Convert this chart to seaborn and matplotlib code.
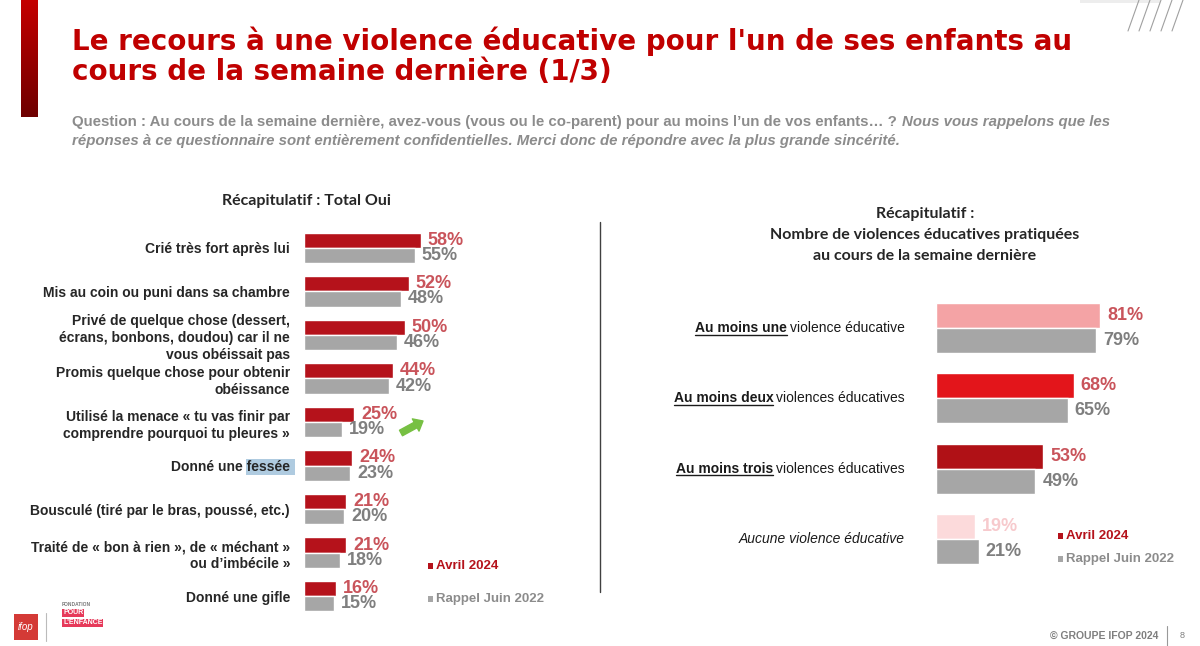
"""
    Recap IFOP : recours a une violence educative (1/3)
    Deux graphiques en barres horizontales (2024 vs 2022).
"""

import numpy as np
import pandas as pd
import matplotlib
matplotlib.use("Agg")
from matplotlib import pyplot as plt
from matplotlib import font_manager
from matplotlib.patches import Rectangle, FancyBboxPatch
from matplotlib.lines import Line2D
from matplotlib.colors import LinearSegmentedColormap
import seaborn as sns

# Donnees - graphique de gauche
ITEMS = [
    "Crié très fort après lui",
    "Mis au coin ou puni dans sa chambre",
    "Privé de quelque chose (dessert,\nécrans, bonbons, doudou) car il ne\nvous obéissait pas",
    "Promis quelque chose pour obtenir\nobéissance",
    "Utilisé la menace « tu vas finir par\ncomprendre pourquoi tu pleures »",
    "Donné une fessée",
    "Bousculé (tiré par le bras, poussé, etc.)",
    "Traité de « bon à rien », de « méchant »\nou d’imbécile »",
    "Donné une gifle",
]
AVRIL_2024 = [58, 52, 50, 44, 25, 24, 21, 21, 16]
JUIN_2022 = [55, 48, 46, 42, 19, 23, 20, 18, 15]

# Donnees - graphique de droite
NB_BOLD = ["Au moins une", "Au moins deux", "Au moins trois", ""]
NB_REST = ["violence éducative", "violences éducatives", "violences éducatives",
           "Aucune violence éducative"]
NB_AVRIL_2024 = [81, 68, 53, 19]
NB_JUIN_2022 = [79, 65, 49, 21]

SERIES = ["Avril 2024", "Rappel Juin 2022"]

RED = "#B5121B"
GREY = "#A6A6A6"
NB_COLORS = ["#F4A3A5", "#E3151B", "#B01116", "#FCDADB"]
RED_TXT = "#C9545B"
GREY_TXT = "#7F7F7F"

W, H = 1200, 646

sns.set_style("white")
names = {f.name for f in font_manager.fontManager.ttflist}
HAS_NARROW = "Liberation Sans Narrow" in names
NARROW = ["Liberation Sans Narrow", "Liberation Sans", "DejaVu Sans"]
ARIAL = ["Liberation Sans", "DejaVu Sans"]
plt.rcParams["font.family"] = ARIAL


def fx(x):
    return x / W


def fy(y):
    return 1 - y / H


fig = plt.figure(figsize=(W / 100, H / 100), dpi=100)
fig.canvas.draw()
renderer = fig.canvas.get_renderer()


def width_of(t):
    return t.get_window_extent(renderer).width


def fit_width(t, width):
    t.set_fontsize(t.get_fontsize() * width / width_of(t))


def put_runs(x, y, runs, gap=4, align="left"):
    """ Place plusieurs morceaux de texte sur une meme ligne de base """
    arts = [fig.text(fx(x), fy(y), s, va="baseline", ha="left", **kw) for s, kw in runs]
    widths = [width_of(a) for a in arts]
    total = sum(widths) + gap * (len(arts) - 1)
    start = x - total if align == "right" else x
    pos = []
    for a, w in zip(arts, widths):
        a.set_x(fx(start))
        pos.append((start, w))
        start += w + gap
    return arts, pos


# ---- Titre ----
title_kw = dict(color="#C00000", fontweight="bold", family=["DejaVu Sans"], va="baseline")
t1 = fig.text(fx(72), fy(50), "Le recours à une violence éducative pour l'un de ses enfants au",
              fontsize=18, **title_kw)
fit_width(t1, 1003)
fig.text(fx(72), fy(80), "cours de la semaine dernière (1/3)",
         fontsize=t1.get_fontsize(), **title_kw)

# barre rouge decorative a gauche
deco = fig.add_axes([fx(21), fy(117), fx(17), 117 / H])
grad = np.linspace(0, 1, 100).reshape(-1, 1)
cmap = LinearSegmentedColormap.from_list("deco", ["#C40000", "#6E0000"])
img = deco.imshow(grad, aspect="auto", cmap=cmap, extent=(0, 1, 0, 1))
clip = FancyBboxPatch((0, -0.2), 1, 1.3, boxstyle="round,pad=0,rounding_size=0.5",
                      transform=deco.transAxes, mutation_aspect=0.15)
img.set_clip_path(clip)
deco.axis("off")

# hachures en haut a droite
for i in range(5):
    x0 = 1128 + i * 11
    fig.add_artist(Line2D([fx(x0), fx(x0 + 11)], [fy(31), fy(0)], color="#A0A0A0", lw=0.8))
fig.add_artist(Rectangle((fx(1080), fy(3)), fx(80), 3 / H, color="#EDEDED", lw=0))

# ---- Sous-titre ----
SUB_1 = ("Question : Au cours de la semaine dernière, avez-vous (vous ou le co-parent) "
         "pour au moins l’un de vos enfants… ?")
SUB_1_IT = "Nous vous rappelons que les"
SUB_2 = ("réponses à ce questionnaire sont entièrement confidentielles. "
         "Merci donc de répondre avec la plus grande sincérité.")
sub_kw = dict(color="#8C8C8C", fontweight="bold", family=NARROW)
probe = [fig.text(0, 0, SUB_1, fontsize=11, **sub_kw),
         fig.text(0, 0, SUB_1_IT, fontsize=11, style="italic", **sub_kw)]
sub_size = 11 * 1040 / (sum(width_of(a) for a in probe) + 5)
for a in probe:
    a.remove()
put_runs(72, 126, [(SUB_1, dict(sub_kw, fontsize=sub_size)),
                   (SUB_1_IT, dict(sub_kw, fontsize=sub_size, style="italic"))], gap=5)
fig.text(fx(72), fy(145), SUB_2, va="baseline", fontsize=sub_size, style="italic", **sub_kw)

# ---- Titres des sections ----
st = fig.text(fx(307), fy(201), "Récapitulatif : Total Oui", ha="center", va="center",
              fontweight="bold", fontsize=11, family=["Lato", "DejaVu Sans"])
fit_width(st, 169)
for yy, s in zip([214, 235, 256], ["Récapitulatif :", "Nombre de violences éducatives pratiquées",
                                   "au cours de la semaine dernière"]):
    fig.text(fx(925), fy(yy), s, ha="center", va="center", fontweight="bold",
             fontsize=st.get_fontsize(), family=["Lato", "DejaVu Sans"])

# separateur vertical
fig.add_artist(Line2D([fx(600), fx(600)], [fy(222), fy(592)], color="#404040", lw=1))

# ---- Graphique de gauche ----
df_left = pd.DataFrame({
    "item": ITEMS * 2,
    "serie": [SERIES[0]] * len(ITEMS) + [SERIES[1]] * len(ITEMS),
    "val": AVRIL_2024 + JUIN_2022,
})
ax1 = fig.add_axes([fx(304), fy(618), 242 / W, 392 / H])
sns.barplot(data=df_left, y="item", x="val", hue="serie", order=ITEMS, hue_order=SERIES,
            palette=[RED, GREY], width=0.7, saturation=1, legend=False, ax=ax1)
ax1.set_xlim(0, 120)
ax1.set_ylim(len(ITEMS) - 0.5, -0.5)
ax1.set_xlabel("")
ax1.set_ylabel("")
ax1.set_xticks([])
sns.despine(ax=ax1, left=True, bottom=True)
lab_size = 12.2 if HAS_NARROW else 10
ax1.tick_params(axis="y", length=0, pad=10)
for lab in ax1.get_yticklabels():
    lab.set_fontfamily(NARROW)
    lab.set_fontweight("bold")
    lab.set_fontsize(lab_size)
    lab.set_linespacing(1.12 if HAS_NARROW else 1.3)
ax1.bar_label(ax1.containers[0], fmt="%d%%", padding=5, color=RED_TXT,
              fontsize=13, fontweight="bold")
ax1.bar_label(ax1.containers[1], fmt="%d%%", padding=5, color=GREY_TXT,
              fontsize=13, fontweight="bold")

# fleche verte (hausse significative)
ax1.annotate("", xy=(423, H - 421), xycoords="figure pixels",
             xytext=(401, H - 433), textcoords="figure pixels", annotation_clip=False,
             arrowprops=dict(arrowstyle="simple,head_width=1.0,head_length=0.6,tail_width=0.45",
                             color="#77C043", mutation_scale=10, shrinkA=0, shrinkB=0))

# surlignage de "fessée"
fig.canvas.draw()
lab = ax1.get_yticklabels()[5]
bb = lab.get_window_extent(renderer)
tmp = fig.text(0, 0, "fessée", fontfamily=NARROW, fontweight="bold", fontsize=lab_size)
wf = width_of(tmp)
tmp.remove()
fig.add_artist(Rectangle(((bb.x1 - wf - 1) / W, (bb.y0 - 1) / H), (wf + 6) / W,
                         (bb.height + 2) / H, color="#AFCBE0", lw=0, zorder=-1))

# ---- Graphique de droite ----
nb_cats = [(b + " " + r).strip() for b, r in zip(NB_BOLD, NB_REST)]
df_right = pd.DataFrame({
    "cat": nb_cats * 2,
    "serie": [SERIES[0]] * len(nb_cats) + [SERIES[1]] * len(nb_cats),
    "val": NB_AVRIL_2024 + NB_JUIN_2022,
})
ax2 = fig.add_axes([fx(936), fy(574), 223 / W, 281 / H])
sns.barplot(data=df_right, y="cat", x="val", hue="serie", order=nb_cats, hue_order=SERIES,
            palette=[RED, GREY], width=0.71, saturation=1, legend=False, ax=ax2)
ax2.set_xlim(0, 110)
ax2.set_ylim(len(nb_cats) - 0.5, -0.5)
ax2.set_xlabel("")
ax2.set_ylabel("")
ax2.set_xticks([])
ax2.set_yticks([])
sns.despine(ax=ax2, left=True, bottom=True)
for patch, col in zip(ax2.containers[0], NB_COLORS):
    patch.set_facecolor(col)
lab_cols = [RED_TXT, RED_TXT, RED_TXT, "#F7CACD"]
txts = ax2.bar_label(ax2.containers[0], fmt="%d%%", padding=5, fontsize=13, fontweight="bold")
for t, c in zip(txts, lab_cols):
    t.set_color(c)
ax2.bar_label(ax2.containers[1], fmt="%d%%", padding=5, color=GREY_TXT,
              fontsize=13, fontweight="bold")

# etiquettes de droite (gras souligne + normal)
fig.canvas.draw()
for i, (b, r) in enumerate(zip(NB_BOLD, NB_REST)):
    yc = H - ax2.transData.transform((0, i))[1]
    base = yc + 4
    if b:
        arts, pos = put_runs(905, base, [
            (b, dict(fontweight="bold", fontsize=10, color="#1A1A1A")),
            (r, dict(fontsize=10, color="#1A1A1A")),
        ], gap=3, align="right")
        x0, w = pos[0]
        fig.add_artist(Line2D([fx(x0), fx(x0 + w)], [fy(base + 2.5)] * 2, color="#1A1A1A", lw=1))
    else:
        fig.text(fx(905), fy(base), r, ha="right", va="baseline", fontsize=10,
                 style="italic", color="#1A1A1A")

# ---- Legendes ----
leg_kw = dict(fontweight="bold", fontsize=11.5 if HAS_NARROW else 9.5, family=NARROW,
              va="center")
for x0, ys in [(428, (566, 599)), (1058, (536, 559))]:
    for yy, col, s in zip(ys, [RED, GREY], SERIES):
        fig.add_artist(Rectangle((fx(x0), fy(yy + 3)), 5 / W, 6 / H, color=col, lw=0))
        fig.text(fx(x0 + 8), fy(yy), s, color=col if col == RED else "#8C8C8C", **leg_kw)

# ---- Pied de page ----
fig.add_artist(Rectangle((fx(14), fy(640)), 24 / W, 26 / H, color="#D43A36", lw=0))
fig.text(fx(26), fy(627), "ifop", color="white", fontsize=7, style="italic",
         ha="center", va="center")
fig.add_artist(Line2D([fx(46), fx(46)], [fy(613), fy(641)], color="#BBBBBB", lw=0.8))
fig.text(fx(62), fy(604), "FONDATION", color="#777777", fontsize=3.5, va="center",
         fontweight="bold")
fig.text(fx(63), fy(613), "POUR", color="white", fontsize=5, va="center", fontweight="bold",
         bbox=dict(boxstyle="square,pad=0.1", fc="#E63A5A", ec="none"))
fig.text(fx(63), fy(623), "L'ENFANCE", color="white", fontsize=5, va="center",
         fontweight="bold", bbox=dict(boxstyle="square,pad=0.1", fc="#E63A5A", ec="none"))
fig.text(fx(1158), fy(636), "© GROUPE IFOP 2024", ha="right", va="center", fontsize=7.5,
         color="#7F7F7F", fontweight="bold")
fig.add_artist(Line2D([fx(1167), fx(1167)], [fy(626), fy(646)], color="#999999", lw=0.8))
fig.text(fx(1182), fy(636), "8", ha="center", va="center", fontsize=6.5, color="#7F7F7F")

fig.savefig("out.png", dpi=100)
